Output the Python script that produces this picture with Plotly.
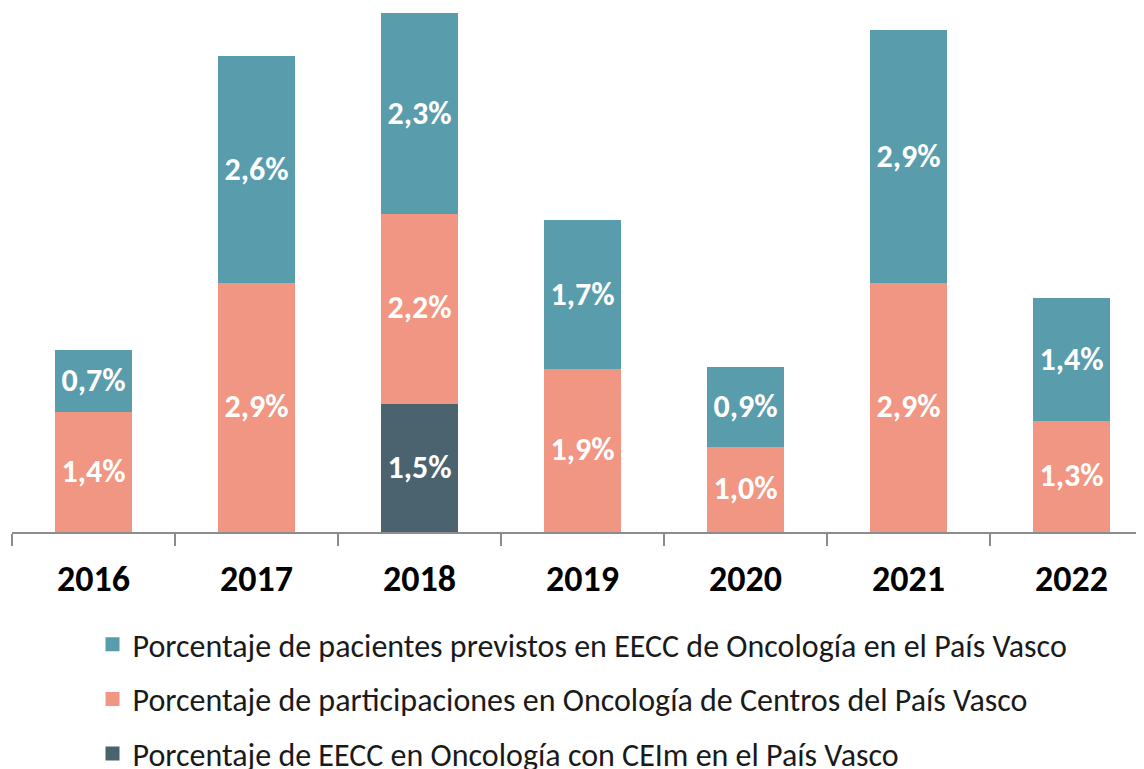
import plotly.graph_objects as go

years = ["2016", "2017", "2018", "2019", "2020", "2021", "2022"]
ceim = [None, None, 1.5, None, None, None, None]
participaciones = [1.4, 2.9, 2.2, 1.9, 1.0, 2.9, 1.3]
pacientes = [0.7, 2.6, 2.3, 1.7, 0.9, 2.9, 1.4]

names = {
    "pac": "Porcentaje de pacientes previstos en EECC de Oncología en el País Vasco",
    "part": "Porcentaje de participaciones en Oncología de Centros del País Vasco",
    "ceim": "Porcentaje de EECC en Oncología con CEIm en el País Vasco",
}
colors = {"pac": "#599DAD", "part": "#F09682", "ceim": "#4B626F"}


def fmt(vals):
    return [("" if v is None else f"{v:.1f}".replace(".", ",") + "%") for v in vals]


FONT = "Carlito, Lato"
fig = go.Figure()
for key, vals, rank in [("ceim", ceim, 3), ("part", participaciones, 2), ("pac", pacientes, 1)]:
    fig.add_trace(go.Bar(
        x=years, y=vals, name=names[key], text=fmt(vals),
        marker=dict(color=colors[key], line=dict(width=2, color=colors[key])),
        textposition="inside", insidetextanchor="middle",
        textfont=dict(family=FONT, size=32, color="white", weight=700),
        width=0.466, legendgroup=key, legendrank=rank,
        cliponaxis=False,
    ))

fig.update_layout(
    barmode="stack",
    width=1144, height=769,
    margin=dict(l=4, r=0, t=0, b=245, autoexpand=False),
    plot_bgcolor="white", paper_bgcolor="white",
    uniformtext=dict(mode=False),
    font=dict(family=FONT, color="black"),
    xaxis=dict(
        type="category", range=[-0.5, 6.494],
        showline=True, linecolor="#8C8C8C", linewidth=1.5,
        ticks="outside", tickson="boundaries", ticklen=12, tickwidth=1.5, tickcolor="#8C8C8C",
        tickfont=dict(family=FONT, size=36, color="black", weight=700),
        ticklabelstandoff=14,
        showgrid=False, zeroline=False,
    ),
    yaxis=dict(range=[0, 6.07], visible=False, showgrid=False, zeroline=False),
    showlegend=True,
    legend=dict(
        orientation="v", x=(84.5 - 4) / 1140, xanchor="left",
        y=(524 - 609) / 524, yanchor="top",
        traceorder="grouped", tracegroupgap=10,
        font=dict(family=FONT, size=32, color="#1a1a1a"),
        bgcolor="rgba(0,0,0,0)",
    ),
)

fig.write_html("out.html")
